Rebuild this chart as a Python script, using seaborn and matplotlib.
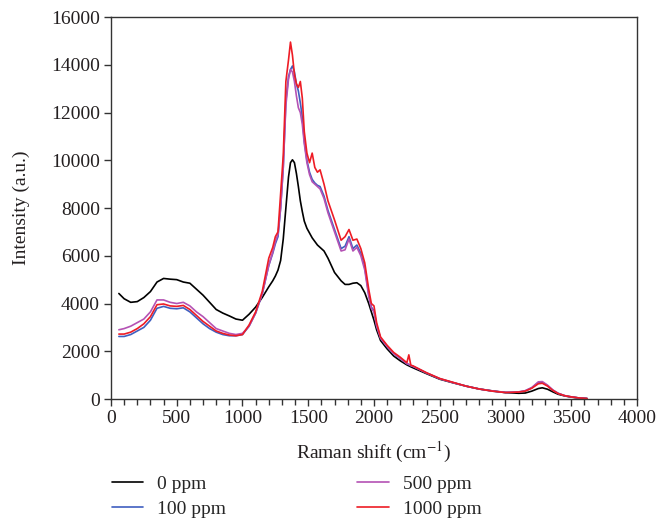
import numpy as np
import pandas as pd
import matplotlib
matplotlib.use("Agg")
import matplotlib.pyplot as plt
import seaborn as sns
from matplotlib.ticker import MultipleLocator

raman_shift = [60, 100, 150, 200, 250, 300, 350, 400, 450, 500, 550, 600, 650, 700, 750, 800, 850, 900, 950, 1000,
               1050, 1100, 1150, 1200, 1230, 1250, 1270, 1290, 1310, 1330, 1350, 1365, 1380, 1395, 1410, 1425, 1440,
               1455, 1470, 1490, 1510, 1530, 1550, 1570, 1590, 1620, 1650, 1700, 1750, 1780, 1810, 1840, 1870, 1900,
               1930, 1960, 1980, 2000, 2020, 2050, 2100, 2150, 2200, 2250, 2265, 2280, 2300, 2400, 2500, 2600, 2700,
               2800, 2900, 3000, 3100, 3150, 3200, 3250, 3280, 3320, 3360, 3400, 3450, 3500, 3550, 3620]

int_0ppm = [4420, 4200, 4050, 4080, 4250, 4500, 4900, 5050, 5020, 5000, 4900, 4850, 4600, 4350, 4050, 3750, 3600, 3480, 3350, 3300,
            3550, 3850, 4250, 4700, 4950, 5150, 5400, 5800, 6700, 8000, 9300, 9900, 10020, 9900, 9450, 8900, 8300,
            7850, 7450, 7150, 6950, 6750, 6600, 6450, 6350, 6200, 5900, 5300, 4950, 4800, 4800, 4850, 4870, 4750,
            4450, 4000, 3650, 3300, 2900, 2450, 2100, 1800, 1600, 1430, 1390, 1350, 1300, 1060, 830, 680, 540,
            420, 340, 270, 240, 250, 330, 440, 470, 410, 300, 200, 130, 80, 50, 20]

int_100ppm = [2620, 2620, 2700, 2850, 3000, 3300, 3800, 3880, 3800, 3780, 3820, 3650, 3400, 3150, 2950, 2800, 2700, 2650, 2650, 2700,
              3050, 3600, 4400, 5600, 6100, 6500, 6800, 8000, 9700, 12500, 13500, 13800, 13950, 13700, 13200, 12900, 12400,
              11800, 10800, 10000, 9500, 9200, 9050, 8950, 8900, 8500, 7900, 7100, 6300, 6400, 6800, 6300, 6450, 6100,
              5500, 4400, 3850, 3700, 3100, 2550, 2200, 1900, 1700, 1480, 1450, 1400, 1360, 1090, 850, 690, 540,
              420, 330, 270, 290, 340, 470, 690, 700, 560, 370, 240, 140, 90, 50, 20]

int_500ppm = [2900, 2950, 3050, 3200, 3350, 3650, 4150, 4150, 4050, 4000, 4050, 3900, 3650, 3450, 3200, 2950, 2850, 2750, 2700, 2750,
              3050, 3600, 4400, 5600, 6150, 6600, 6900, 8000, 9700, 12300, 13400, 13800, 13700, 13300, 12700, 12200, 12000,
              11500, 10700, 9900, 9400, 9100, 9000, 8900, 8800, 8400, 7800, 7000, 6200, 6250, 6700, 6200, 6350, 6000,
              5400, 4300, 3800, 3650, 3050, 2550, 2200, 1900, 1700, 1480, 1450, 1400, 1360, 1090, 850, 690, 540,
              420, 340, 280, 300, 350, 480, 720, 730, 580, 380, 240, 140, 90, 50, 20]

int_1000ppm = [2720, 2720, 2800, 2950, 3150, 3450, 3950, 3980, 3900, 3880, 3920, 3750, 3500, 3250, 3050, 2850, 2750, 2680, 2650, 2700,
               3100, 3650, 4500, 5900, 6350, 6800, 7000, 8600, 10200, 13300, 14200, 14950, 14400, 13600, 13200, 13050, 13300,
               12600, 11200, 10300, 9900, 10300, 9700, 9500, 9600, 9000, 8300, 7500, 6650, 6800, 7100, 6650, 6700, 6300,
               5700, 4600, 4000, 3900, 3200, 2600, 2250, 1950, 1750, 1520, 1850, 1420, 1380, 1100, 860, 700, 540,
               420, 330, 270, 290, 330, 450, 640, 660, 540, 360, 230, 140, 90, 50, 20]

labels = ["0 ppm", "100 ppm", "500 ppm", "1000 ppm"]
colors = ["#000000", "#3f5fc0", "#b452b4", "#ee1c25"]

series = [int_0ppm, int_100ppm, int_500ppm, int_1000ppm]
frames = []
for lab, vals in zip(labels, series):
    frames.append(pd.DataFrame({"Raman shift": raman_shift, "Intensity": vals, "Sample": lab}))
df = pd.concat(frames, ignore_index=True)

sns.set_style("ticks")
plt.rcParams["font.family"] = ["Liberation Serif", "DejaVu Serif"]
plt.rcParams["mathtext.fontset"] = "stix"

fig = plt.figure(figsize=(6.59, 5.22), dpi=100)
ax = fig.add_axes([0.1684, 0.2356, 0.7982, 0.7318])

sns.lineplot(data=df, x="Raman shift", y="Intensity", hue="Sample", hue_order=labels,
             palette=dict(zip(labels, colors)), estimator=None, sort=False, linewidth=1.2, ax=ax)

ax.set_xlim(0, 4000)
ax.set_ylim(0, 16000)
ax.xaxis.set_major_locator(MultipleLocator(500))
ax.xaxis.set_minor_locator(MultipleLocator(100))
ax.yaxis.set_major_locator(MultipleLocator(2000))
ax.tick_params(axis="both", which="major", direction="out", length=5, width=1, colors="#333333",
               labelsize=14, labelcolor="#231f20", pad=3)
ax.tick_params(axis="x", which="minor", direction="out", length=4, width=1, colors="#333333")
for sp in ax.spines.values():
    sp.set_color("#333333")
    sp.set_linewidth(1.0)
    sp.set_visible(True)

ax.set_xlabel("Raman shift (cm$^{-1}$)", fontsize=14, color="#231f20", labelpad=9)
ax.set_ylabel("Intensity (a.u.)", fontsize=14, color="#231f20", labelpad=15)

handles, labs = ax.get_legend_handles_labels()
ax.get_legend().remove()
fig.legend(handles, labs, loc="upper left", bbox_to_anchor=(0.170, 0.089), ncol=2, frameon=False,
           fontsize=14, handlelength=1.6, handletextpad=0.72, columnspacing=6.75, labelspacing=0.38,
           borderaxespad=0, borderpad=0)

fig.savefig("out.png", dpi=100)
